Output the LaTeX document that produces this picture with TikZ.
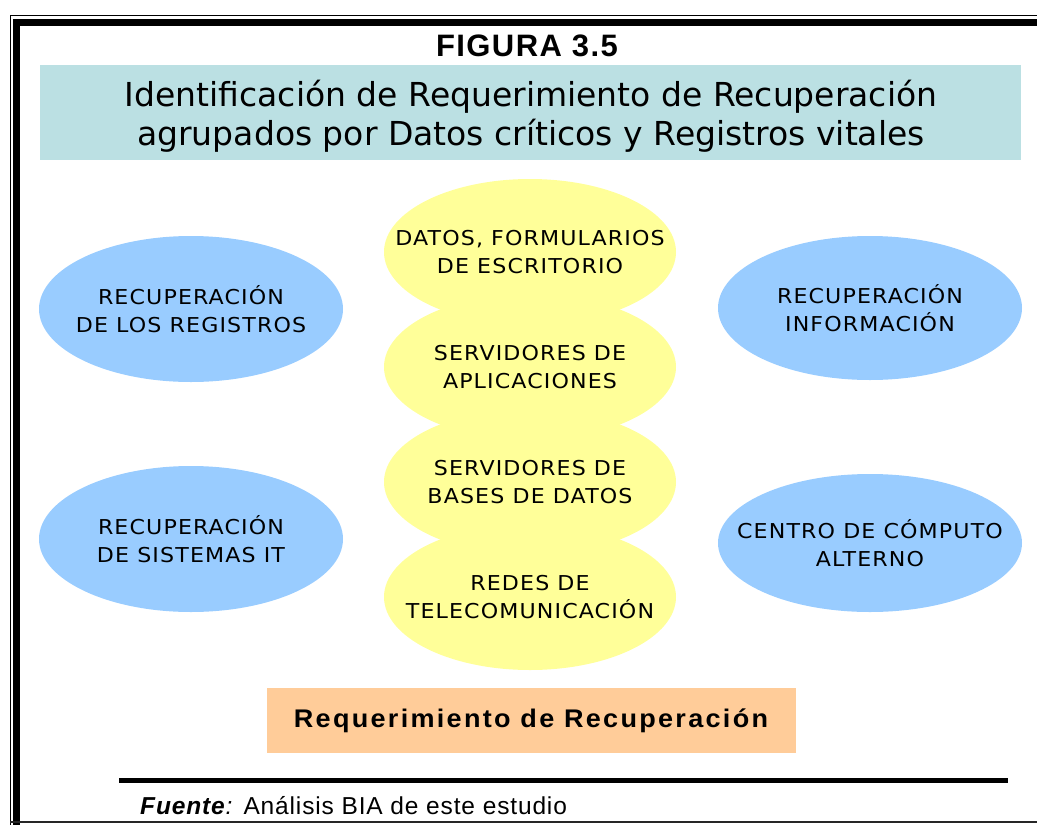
\documentclass[tikz,border=0pt]{standalone}
\usepackage{fontspec}
\setmainfont{Liberation Sans}
\newfontfamily\titlefont{DejaVu Sans}
\newfontfamily\blobfont[LetterSpace=5.5, FakeStretch=1.08]{DejaVu Sans}
\newfontfamily\figfont[LetterSpace=4.5]{Liberation Sans}
\newfontfamily\reqfont[LetterSpace=9, FakeStretch=1.06]{Liberation Sans}
\newfontfamily\srcfont[LetterSpace=3.5]{Liberation Sans}
\definecolor{titlecyan}{HTML}{BBE0E3}
\definecolor{blobyellow}{HTML}{FFFF99}
\definecolor{blobblue}{HTML}{99CCFF}
\definecolor{reqorange}{HTML}{FFCC99}
\tikzset{
	blobtext/.style={align=center, inner sep=0pt, font=\blobfont\fontsize{20.5}{28}\selectfont}
}

\begin{document}
\begin{tikzpicture}[x=1pt, y=-1pt]
		%%%%% START %%%%%
		\useasboundingbox (0, 0) rectangle (1037, 825);
		\clip (0, 0) rectangle (1037, 825);
		
		% frame
		\draw[line width=1.5pt] (10.5, 15.5) rectangle (1100, 900);
		\draw[line width=7pt] (16.5, 22.5) rectangle (1100, 900);
		\draw[line width=2pt, color=black!85] (10, 822) -- (1037, 822);
		
		\node[font=\figfont\bfseries\fontsize{31}{31}\selectfont] (fig) at (527, 46) {FIGURA 3.5};
		
		\fill[titlecyan] (40, 65) rectangle (1021, 160);
		\node[align=center, font=\titlefont\fontsize{33}{39}\selectfont] (title) at (531, 116) {Identificación de Requerimiento de Recuperación\\agrupados por Datos críticos y Registros vitales};
		
		% central column
		\foreach \cy in {252, 367, 482, 597}
			\fill[blobyellow] (530, \cy) ellipse [x radius=146, y radius=73];
		\node[blobtext] (datos) at (530, 252) {DATOS, FORMULARIOS\\DE ESCRITORIO};
		\node[blobtext] (aplic) at (530, 367) {SERVIDORES DE\\APLICACIONES};
		\node[blobtext] (bases) at (530, 482) {SERVIDORES DE\\BASES DE DATOS};
		\node[blobtext] (redes) at (530, 597) {REDES DE\\TELECOMUNICACIÓN};
		
		% side blobs
		\fill[blobblue] (191, 309) ellipse [x radius=152, y radius=73];
		\fill[blobblue] (191, 539) ellipse [x radius=152, y radius=73];
		\fill[blobblue] (870, 308) ellipse [x radius=152, y radius=72];
		\fill[blobblue] (870, 543) ellipse [x radius=152, y radius=69];
		\node[blobtext] (registros) at (191, 309) {RECUPERACIÓN\\DE LOS REGISTROS};
		\node[blobtext] (sistemas) at (191, 539) {RECUPERACIÓN\\DE SISTEMAS IT};
		\node[blobtext] (informacion) at (870, 308) {RECUPERACIÓN\\INFORMACIÓN};
		\node[blobtext] (centro) at (870, 543) {CENTRO DE CÓMPUTO\\ALTERNO};
		
		\fill[reqorange] (267, 688) rectangle (796, 753);
		\node[font=\reqfont\bfseries\fontsize{25.5}{25.5}\selectfont] (req) at (531, 721) {Requerimiento de Recuperación};
		
		\draw[line width=4.5pt] (119, 780.5) -- (1008, 780.5);
		\node[anchor=base west, font=\srcfont\fontsize{24.5}{24.5}\selectfont, inner sep=0pt] (fuente) at (140, 814) {\textbf{\textit{Fuente}}\textit{:} Análisis BIA de este estudio};
		
		%%%%% END %%%%%
	\end{tikzpicture}
\end{document}
